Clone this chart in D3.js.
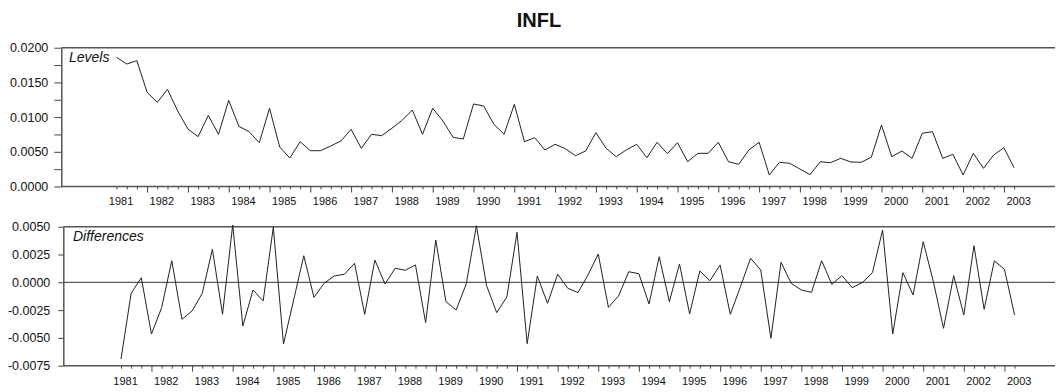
<!DOCTYPE html>
<html>
<head>
<meta charset="utf-8">
<script src="https://cdn.jsdelivr.net/npm/d3@7"></script>
<style>
body { margin: 0; background: #fff; }
svg text { font-family: Arial, "Liberation Sans", sans-serif; fill: #111; }
</style>
</head>
<body>
<svg width="1060" height="392"></svg>
<script>
// quarterly series, first observation 1981 Q2
var startYear = 1981, startQuarter = 2;

var levels = [
    0.01862, 0.01765, 0.01813, 0.01357, 0.01213, 0.01400, 0.01088, 0.00829, 0.00718, 0.01025,
    0.00752, 0.01242, 0.00867, 0.00790, 0.00631, 0.01127, 0.00569, 0.00410, 0.00646, 0.00516,
    0.00516, 0.00584, 0.00656, 0.00824, 0.00550, 0.00752, 0.00732, 0.00839, 0.00954, 0.01102,
    0.00752, 0.01127, 0.00944, 0.00709, 0.00684, 0.01189, 0.01160, 0.00896, 0.00752, 0.01184,
    0.00646, 0.00703, 0.00526, 0.00608, 0.00545, 0.00444, 0.00512, 0.00775, 0.00550, 0.00429,
    0.00530, 0.00608, 0.00415, 0.00637, 0.00473, 0.00631, 0.00357, 0.00478, 0.00478, 0.00637,
    0.00357, 0.00320, 0.00526, 0.00637, 0.00166, 0.00349, 0.00334, 0.00252, 0.00170, 0.00357,
    0.00343, 0.00406, 0.00353, 0.00349, 0.00421, 0.00886, 0.00429, 0.00512, 0.00406, 0.00767,
    0.00790, 0.00406, 0.00464, 0.00166, 0.00478, 0.00262, 0.00454, 0.00559, 0.00271
];

var diffs = [
    -0.00690, -0.00099, 0.00041, -0.00465, -0.00228, 0.00194, -0.00333, -0.00258, -0.00099, 0.00297,
    -0.00288, 0.00515, -0.00393, -0.00069, -0.00168, 0.00495, -0.00555, -0.00160, 0.00239, -0.00135,
    -0.00009, 0.00057, 0.00072, 0.00171, -0.00288, 0.00200, -0.00015, 0.00126, 0.00108, 0.00156,
    -0.00363, 0.00380, -0.00174, -0.00249, -0.00015, 0.00509, -0.00030, -0.00273, -0.00132, 0.00450,
    -0.00552, 0.00057, -0.00189, 0.00072, -0.00054, -0.00093, 0.00068, 0.00254, -0.00225, -0.00123,
    0.00095, 0.00077, -0.00195, 0.00230, -0.00174, 0.00165, -0.00285, 0.00102, 0.00014, 0.00156,
    -0.00288, -0.00040, 0.00216, 0.00111, -0.00504, 0.00180, -0.00009, -0.00069, -0.00090, 0.00194,
    -0.00018, 0.00060, -0.00048, -0.00003, 0.00087, 0.00470, -0.00465, 0.00087, -0.00114, 0.00365,
    0.00006, -0.00414, 0.00060, -0.00294, 0.00329, -0.00243, 0.00192, 0.00117, -0.00294
];

var yearLabels = ["1981", "1982", "1983", "1984", "1985", "1986", "1987", "1988", "1989", "1990",
    "1991", "1992", "1993", "1994", "1995", "1996", "1997", "1998", "1999", "2000",
    "2001", "2002", "2003"];

var levelTicks = [0, 0.0025, 0.005, 0.0075, 0.01, 0.0125, 0.015, 0.0175, 0.02];
var levelLabelled = [0, 0.005, 0.01, 0.015, 0.02];
var diffTicks = [-0.0075, -0.005, -0.0025, 0, 0.0025, 0.005];

var fmt = d3.formatLocale({decimal: ".", thousands: ",", grouping: [3], currency: ["", ""], minus: "-"})
    .format(".4f");

var svg = d3.select("svg");

svg.append("text")
    .attr("x", 539)
    .attr("y", 27)
    .attr("text-anchor", "middle")
    .style("font-size", "20px")
    .style("font-weight", "bold")
    .text("INFL");

// time of each observation, in fractional years
var times = levels.map(function(d, i) {
    return startYear + (startQuarter - 1) / 4 + i / 4;
});

drawPanel({
    values: levels, name: "Levels",
    left: 61.3, right: 1055, top: 47.7, bottom: 186.5,
    x0: 116.5, x1: 1014.1,
    domain: [0, 0.02], ticks: levelTicks, labelled: levelLabelled,
    tickSize: 7, tickPadding: 6,
    nameX: 69, nameY: 61.5
});

drawPanel({
    values: diffs, name: "Differences",
    left: 63.3, right: 1055, top: 226.7, bottom: 365.7,
    x0: 121, x1: 1014.6,
    domain: [-0.0075, 0.005], ticks: diffTicks, labelled: diffTicks,
    tickSize: 5, tickPadding: 8,
    nameX: 73, nameY: 241,
    zeroLine: true
});

function drawPanel(p) {

    var x = d3.scaleLinear()
        .domain([times[0], times[times.length - 1]])
        .range([p.x0, p.x1]);

    var y = d3.scaleLinear()
        .domain(p.domain)
        .range([p.bottom, p.top]);

    var g = svg.append("g");

    // frame lines
    g.append("line")
        .attr("x1", p.left).attr("x2", p.right)
        .attr("y1", p.top).attr("y2", p.top)
        .attr("stroke", "#555").attr("stroke-width", 1.5);

    g.append("line")
        .attr("x1", p.left).attr("x2", p.right)
        .attr("y1", p.bottom).attr("y2", p.bottom)
        .attr("stroke", "#555").attr("stroke-width", 1.5);

    if (p.zeroLine) {
        g.append("line")
            .attr("x1", p.left).attr("x2", p.right)
            .attr("y1", y(0)).attr("y2", y(0))
            .attr("stroke", "#333").attr("stroke-width", 1);
    }

    var yAxis = d3.axisLeft(y)
        .tickValues(p.ticks)
        .tickSizeInner(p.tickSize)
        .tickSizeOuter(0)
        .tickPadding(p.tickPadding)
        .tickFormat(function(d) {
            return p.labelled.indexOf(d) >= 0 ? fmt(d) : "";
        });

    var ya = g.append("g")
        .attr("transform", "translate(" + p.left + ",0)")
        .call(yAxis);
    ya.select(".domain").attr("stroke", "#555").attr("stroke-width", 1.5);
    ya.selectAll(".tick line").attr("stroke", "#444");
    ya.selectAll(".tick text").style("font-size", "12.5px").attr("fill", "#111");

    // quarterly ticks, longer at the first quarter of each year
    var xAxis = d3.axisBottom(x)
        .tickValues(times)
        .tickSizeInner(3)
        .tickSizeOuter(0)
        .tickFormat("");

    var xa = g.append("g")
        .attr("transform", "translate(0," + p.bottom + ")")
        .call(xAxis);
    xa.select(".domain").remove();
    xa.selectAll(".tick line")
        .attr("stroke", "#444")
        .attr("y2", function(d) {
            return Math.abs(d - Math.round(d)) < 1e-6 ? 6 : 3;
        });

    g.selectAll(".year")
        .data(yearLabels)
        .enter()
        .append("text")
        .attr("class", "year")
        .attr("x", function(d) { return x(+d) + 2.5; })
        .attr("y", p.bottom + 18.8)
        .style("font-size", "11px")
        .text(function(d) { return d; });

    var line = d3.line()
        .x(function(d, i) { return x(times[i]); })
        .y(function(d) { return y(d); });

    g.append("path")
        .datum(p.values)
        .attr("d", line)
        .attr("fill", "none")
        .attr("stroke", "#222")
        .attr("stroke-width", 1);

    g.append("text")
        .attr("x", p.nameX)
        .attr("y", p.nameY)
        .style("font-size", "14px")
        .style("font-style", "italic")
        .text(p.name);
}
</script>
</body>
</html>
